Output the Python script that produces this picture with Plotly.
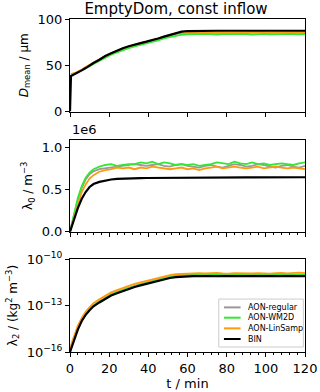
import plotly.graph_objects as go
from plotly.subplots import make_subplots

# time axis (min)
t = [0, 0.5, 1, 2, 3, 4, 6, 8, 10, 12, 15, 18, 21, 24, 27, 30, 33, 36, 39, 42, 45, 48, 51, 54, 57,
     60, 63, 66, 69, 72, 75, 78, 81, 84, 87, 90, 93, 96, 99, 102, 105, 108, 111, 114, 117, 120]

names = ["AON-regular", "AON-WM2D", "AON-LinSamp", "BIN"]
colors = ["#999999", "#33e833", "#ff9a10", "#000000"]

# mean diameter / um
dmean_regular = [None, 39, 39.5, 40.5, 41.5, 42.5, 45, 47.5, 50, 52.5,
                 56, 59.5, 62.5, 65.5, 68, 70, 72, 73.5, 75, 76.5, 78.5, 80.5, 82.5, 84, 85,
                 85.3, 85.2, 85.4, 85.1, 85.3, 85.5, 85.2, 85.0, 85.3, 85.4, 85.1, 85.2, 85.5, 85.3, 85.0, 85.2, 85.4, 85.3, 85.1, 85.3, 85.2]
dmean_wm2d = [None, 40, 40.5, 41, 41.5, 42.5, 44.5, 46.5, 49, 51.5,
              55, 58.5, 61.5, 64, 66.5, 68.5, 70.5, 72, 73.5, 75, 77, 79, 80.5, 82, 83,
              83.5, 83.8, 83.4, 84.0, 83.6, 83.2, 83.7, 83.9, 83.3, 83.5, 83.8, 83.2, 83.6, 84.0, 83.4, 83.1, 83.6, 83.9, 83.3, 83.5, 83.8]
dmean_linsamp = [None, 40.5, 41, 41.5, 42, 43, 45.5, 48, 50.5, 53,
                 56.5, 60, 63, 66, 68.5, 70.5, 72.5, 74, 75.5, 77, 79, 81, 83, 84.5, 85.3,
                 85.6, 85.5, 85.7, 85.4, 85.6, 85.8, 85.5, 85.3, 85.6, 85.7, 85.4, 85.5, 85.8, 85.6, 85.3, 85.5, 85.7, 85.6, 85.4, 85.6, 85.5]
dmean_bin = [0, 38.5, 39, 40, 41, 42, 44.5, 47, 50, 52.5,
             56, 60, 63, 66, 68.5, 70.5, 72.5, 74, 75.5, 77, 79, 81, 83, 85, 86.3,
             87, 87.2, 87.3, 87.3, 87.3, 87.3, 87.3, 87.3, 87.3, 87.3, 87.3, 87.3, 87.3, 87.3, 87.3, 87.3, 87.3, 87.3, 87.3, 87.3, 87.3]

# lambda0 in units of 1e6 m^-3
lam0_regular = [0, 0.05, 0.1, 0.2, 0.3, 0.38, 0.52, 0.62, 0.68, 0.715,
                0.74, 0.75, 0.76, 0.77, 0.78, 0.79, 0.8, 0.79, 0.78, 0.79, 0.8, 0.78, 0.77, 0.79, 0.8,
                0.78, 0.77, 0.76, 0.78, 0.79, 0.77, 0.76, 0.78, 0.8, 0.79, 0.77, 0.78, 0.8, 0.79, 0.77, 0.76, 0.78, 0.79, 0.77, 0.76, 0.78]
lam0_wm2d = [0, 0.05, 0.11, 0.21, 0.31, 0.4, 0.54, 0.64, 0.7, 0.74,
             0.77, 0.79, 0.8, 0.78, 0.79, 0.8, 0.8, 0.82, 0.81, 0.83, 0.8, 0.82, 0.81, 0.79, 0.8,
             0.79, 0.8, 0.78, 0.79, 0.8, 0.82, 0.81, 0.8, 0.83, 0.81, 0.8, 0.82, 0.8, 0.81, 0.79, 0.8, 0.81, 0.8, 0.79, 0.81, 0.82]
lam0_linsamp = [0, 0.04, 0.09, 0.17, 0.26, 0.34, 0.47, 0.56, 0.63, 0.67,
                0.71, 0.73, 0.74, 0.76, 0.75, 0.76, 0.74, 0.76, 0.75, 0.77, 0.76, 0.75, 0.74, 0.75, 0.76,
                0.74, 0.75, 0.73, 0.75, 0.76, 0.77, 0.75, 0.76, 0.77, 0.76, 0.75, 0.76, 0.77, 0.75, 0.76, 0.77, 0.76, 0.75, 0.76, 0.75, 0.74]
lam0_bin = [0, 0.035, 0.07, 0.14, 0.21, 0.28, 0.39, 0.47, 0.53, 0.565,
            0.59, 0.608, 0.618, 0.625, 0.629, 0.632, 0.634, 0.635, 0.636, 0.637, 0.638, 0.639, 0.64, 0.64, 0.641,
            0.641, 0.642, 0.642, 0.642, 0.643, 0.643, 0.643, 0.643, 0.644, 0.644, 0.644, 0.644, 0.644, 0.645, 0.645, 0.645, 0.645, 0.645, 0.645, 0.645, 0.645]

# lambda2 as log10 of kg^2 m^-3
lam2_exp_regular = [-16, -15.75, -15.5, -15.2, -14.85, -14.5, -13.95, -13.55, -13.25, -13.0,
                    -12.72, -12.48, -12.28, -12.12, -11.98, -11.85, -11.73, -11.62, -11.52, -11.42, -11.32, -11.22, -11.14, -11.08, -11.04,
                    -11.02, -11.01, -11.0, -11.02, -11.0, -10.99, -11.01, -11.0, -11.02, -11.0, -10.99, -11.01, -11.0, -11.02, -11.0, -10.99, -11.01, -11.0, -11.0, -11.01, -11.0]
lam2_exp_wm2d = [-16, -15.75, -15.5, -15.2, -14.85, -14.5, -13.95, -13.55, -13.25, -13.0,
                 -12.75, -12.5, -12.3, -12.15, -12.0, -11.88, -11.76, -11.65, -11.55, -11.45, -11.35, -11.25, -11.17, -11.1, -11.06,
                 -11.04, -11.03, -11.02, -11.04, -11.02, -11.01, -11.03, -11.02, -11.04, -11.02, -11.01, -11.03, -11.02, -11.04, -11.02, -11.01, -11.03, -11.02, -11.02, -11.03, -11.02]
lam2_exp_linsamp = [-15.9, -15.6, -15.35, -15.0, -14.65, -14.3, -13.8, -13.4, -13.1, -12.85,
                    -12.6, -12.35, -12.15, -12.0, -11.85, -11.72, -11.6, -11.5, -11.4, -11.3, -11.2, -11.1, -11.03, -10.98, -10.95,
                    -10.93, -10.92, -10.9, -10.93, -10.91, -10.89, -10.92, -10.94, -10.9, -10.92, -10.91, -10.93, -10.9, -10.92, -10.94, -10.91, -10.89, -10.92, -10.9, -10.88, -10.91]
lam2_exp_bin = [-16, -15.8, -15.6, -15.25, -14.9, -14.55, -14.0, -13.6, -13.3, -13.05,
                -12.8, -12.55, -12.35, -12.2, -12.05, -11.92, -11.8, -11.7, -11.6, -11.5, -11.4, -11.3, -11.22, -11.16, -11.13,
                -11.11, -11.1, -11.1, -11.1, -11.1, -11.1, -11.1, -11.1, -11.1, -11.1, -11.1, -11.1, -11.1, -11.1, -11.1, -11.1, -11.1, -11.1, -11.1, -11.1, -11.1]

dmean = [dmean_regular, dmean_wm2d, dmean_linsamp, dmean_bin]
lam0 = [lam0_regular, lam0_wm2d, lam0_linsamp, lam0_bin]
lam2 = [[10 ** e for e in s] for s in [lam2_exp_regular, lam2_exp_wm2d, lam2_exp_linsamp, lam2_exp_bin]]

fig = make_subplots(rows=3, cols=1, shared_xaxes=True)

for i in range(4):
    w = 2.2 if i == 3 else 1.8
    fig.add_trace(go.Scatter(x=t, y=dmean[i], mode="lines", line=dict(color=colors[i], width=w),
                             showlegend=False), row=1, col=1)
    fig.add_trace(go.Scatter(x=t, y=lam0[i], mode="lines", line=dict(color=colors[i], width=w),
                             showlegend=False), row=2, col=1)
    fig.add_trace(go.Scatter(x=t, y=lam2[i], mode="lines", line=dict(color=colors[i], width=w),
                             showlegend=False), row=3, col=1)

axis_style = dict(showline=True, linecolor="black", linewidth=1, mirror=True,
                  ticks="outside", ticklen=4, tickcolor="black", showgrid=False,
                  zeroline=False, automargin=False, tickfont=dict(size=13, color="black"))
minor_ticks = dict(dtick=4, ticks="outside", ticklen=2, tickcolor="black")

fig.update_xaxes(range=[0, 120], tickvals=[0, 20, 40, 60, 80, 100, 120], **axis_style)
fig.update_xaxes(showticklabels=False, row=1, col=1)
fig.update_xaxes(showticklabels=False, minor=minor_ticks, row=2, col=1)
fig.update_xaxes(minor=minor_ticks,
                 title=dict(text="t / min", font=dict(size=13, color="black"), standoff=2), row=3, col=1)

fig.update_yaxes(range=[0, 100], tickvals=[0, 50, 100], domain=[0.722, 1.0],
                 title=dict(text="<i>D</i><sub>mean</sub> / µm", font=dict(size=12, color="black"), standoff=6),
                 row=1, col=1, **axis_style)
fig.update_yaxes(range=[0, 1.087], tickvals=[0, 0.5, 1.0], tickformat=".1f", domain=[0.361, 0.637],
                 title=dict(text="λ<sub>0</sub> / m<sup>−3</sup>", font=dict(size=12, color="black"), standoff=6),
                 row=2, col=1, **axis_style)
fig.update_yaxes(type="log", range=[-16, -10], tickvals=[1e-16, 1e-13, 1e-10],
                 ticktext=["10<sup>−16</sup>", "10<sup>−13</sup>", "10<sup>−10</sup>"], domain=[0, 0.279],
                 title=dict(text="λ<sub>2</sub> / (kg<sup>2</sup> m<sup>−3</sup>)", font=dict(size=12, color="black"), standoff=6),
                 row=3, col=1, **axis_style)

fig.add_annotation(text="1e6", xref="paper", yref="paper", x=0, y=0.637, yshift=1,
                   xanchor="left", yanchor="bottom", showarrow=False,
                   font=dict(size=13, color="black"))

# legend drawn in the lower right of the bottom panel
fig.add_shape(type="rect", xref="paper", yref="paper", x0=0.633, x1=0.993, y0=0.015, y1=0.159,
              line=dict(color="#cccccc", width=1), fillcolor="white", layer="above")
leg_y = [0.134, 0.103, 0.071, 0.039]
for i in range(4):
    fig.add_shape(type="line", xref="paper", yref="paper", x0=0.655, x1=0.726, y0=leg_y[i], y1=leg_y[i],
                  line=dict(color=colors[i], width=2), layer="above")
    fig.add_annotation(text=names[i], xref="paper", yref="paper", x=0.748, y=leg_y[i],
                       xanchor="left", yanchor="middle", showarrow=False,
                       font=dict(size=8, color="black"))

fig.update_layout(
    width=320, height=392,
    margin=dict(l=70, r=15, t=19, b=40),
    paper_bgcolor="white", plot_bgcolor="white",
    font=dict(family="DejaVu Sans", color="black"),
    title=dict(text="EmptyDom, const inflow", xref="paper", x=0.451, xanchor="center",
               y=0.99, yanchor="top", font=dict(size=15, color="black")),
    showlegend=False,
)

fig.write_html("out.html", config={"displayModeBar": False},
               post_script="document.body.style.margin='0';document.body.style.overflow='hidden';")
